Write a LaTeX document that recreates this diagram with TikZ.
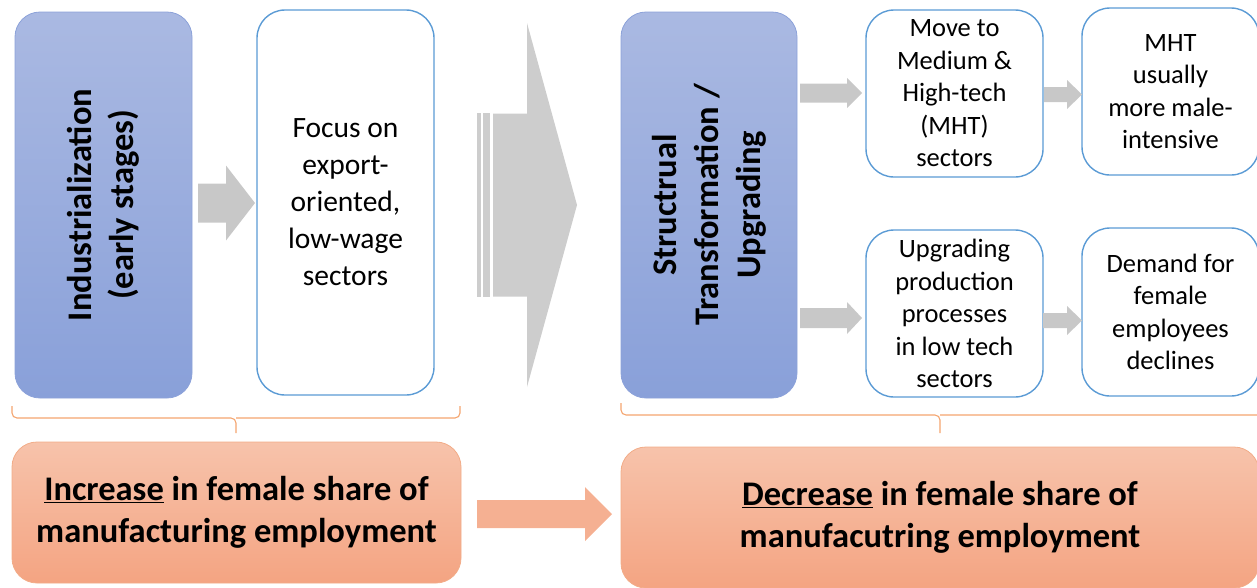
\documentclass[tikz,border=0pt]{standalone}
\usepackage{fontspec}
\setmainfont{Carlito}
\usetikzlibrary{calc}
\definecolor{bluetop}{HTML}{AAB9E2}
\definecolor{bluebot}{HTML}{89A0D9}
\definecolor{blueedge}{HTML}{8CA2D9}
\definecolor{wedge}{HTML}{5B9BD5}
\definecolor{orgtop}{HTML}{F7C3AB}
\definecolor{orgbot}{HTML}{F4A482}
\definecolor{orgedge}{HTML}{F2AC88}
\definecolor{bracecol}{HTML}{F4A56F}
\definecolor{arrgray}{HTML}{C8C8C8}
\definecolor{orgarrow}{HTML}{F5B092}
\newcommand\myarrow[6]{%
  \fill[#1] (#2) ++(0,#4) -- ++({#3-#6},0) -- ++(0,{#5-#4}) -- ++(#6,{-#5}) -- ++({-#6},{-#5}) -- ++(0,{#5-#4}) -- ++({-(#3-#6)},0) -- cycle;}
\tikzset{
  bluebox/.style={rounded corners=25pt, top color=bluetop, bottom color=bluebot, draw=blueedge, line width=0.8pt, inner sep=0pt},
  whitebox/.style={rounded corners=28pt, fill=white, draw=wedge, line width=1.4pt, inner sep=0pt, align=center},
  orgbox/.style={rounded corners=25pt, top color=orgtop, bottom color=orgbot, draw=orgedge, line width=0.8pt, inner sep=0pt, align=center, font=\fontsize{34.5}{42.5}\selectfont\bfseries},
  vtext/.style={rotate=90, align=center, font=\fontsize{34.5}{42}\selectfont\bfseries},
  focustxt/.style={font=\fontsize{29.5}{37}\selectfont},
  smalltxt/.style={font=\fontsize{26.5}{32.5}\selectfont},
  grayarrow/.style={fill=arrgray},
  bigarrow/.style={fill=arrgray!90},
  orangearrow/.style={fill=orgarrow},
  bracestyle/.style={draw=bracecol, line width=1.1pt, rounded corners=5pt}
}
\begin{document}
\begin{tikzpicture}[x=1pt,y=-1pt]
\useasboundingbox (0,0) rectangle (1257,587);
% main boxes
\node[bluebox, minimum width=177pt, minimum height=386pt] (ind) at (103.5,205) {};
\node[vtext] (indtxt) at (ind.center) {Industrialization\\(early stages)};
\node[whitebox, focustxt, minimum width=177pt, minimum height=385pt] (focus) at (345.5,202.5) {Focus on\\export-\\oriented,\\low-wage\\sectors};
\node[bluebox, minimum width=176pt, minimum height=386pt] (str) at (709,205) {};
\node[vtext] (strtxt) at (str.center) {Structrual\\Transformation /\\Upgrading};
\node[whitebox, smalltxt, minimum width=177pt, minimum height=167pt] (move) at (954.5,93.5) {Move to\\Medium \&\\High-tech\\(MHT)\\sectors};
\node[whitebox, smalltxt, minimum width=177pt, minimum height=167pt] (mht) at (1170.5,91.5) {MHT\\usually\\more male-\\intensive};
\node[whitebox, smalltxt, minimum width=177pt, minimum height=167pt] (upg) at (954.5,313.5) {Upgrading\\production\\processes\\in low tech\\sectors};
\node[whitebox, smalltxt, minimum width=177pt, minimum height=168pt] (dem) at (1170.5,312) {Demand for\\female\\employees\\declines};
\node[orgbox, minimum width=449pt, minimum height=141pt] (inc) at (236.5,512.5) {\underline{Increase} in female share of\\manufacturing employment};
\node[orgbox, minimum width=638pt, minimum height=141pt] (dec) at (940,517.5) {\underline{Decrease} in female share of\\manufacutring employment};
% block arrows
\coordinate (a1) at (198,203);
\myarrow{grayarrow}{a1}{57}{19.5}{37.5}{29}
\coordinate (a2) at (493,205);
\myarrow{bigarrow}{a2}{84}{91.5}{182}{50}
\fill[bigarrow] (477,113) rectangle (481,297);
\fill[bigarrow] (483,113) rectangle (490,297);
\coordinate (a3) at (800,93);
\myarrow{grayarrow}{a3}{62}{9.5}{15}{15}
\coordinate (a4) at (800,318);
\myarrow{grayarrow}{a4}{62}{10}{16}{15}
\coordinate (a5) at (1044,94.5);
\myarrow{grayarrow}{a5}{38}{7.5}{14.5}{15}
\coordinate (a6) at (1043,320.5);
\myarrow{grayarrow}{a6}{39}{7.5}{14.5}{15}
\coordinate (a7) at (477,514);
\myarrow{orangearrow}{a7}{135}{14}{27}{27}
% braces
\coordinate (b1) at (236,433);
\draw[bracestyle] (12,406) |- (236,418) -- (b1);
\draw[bracestyle] (460,406) |- (236,418);
\coordinate (b2) at (940,433);
\draw[bracestyle] (621,403) |- (940,415) -- (b2);
\draw[bracestyle] (1262,403) |- (940,415);
\end{tikzpicture}
\end{document}
